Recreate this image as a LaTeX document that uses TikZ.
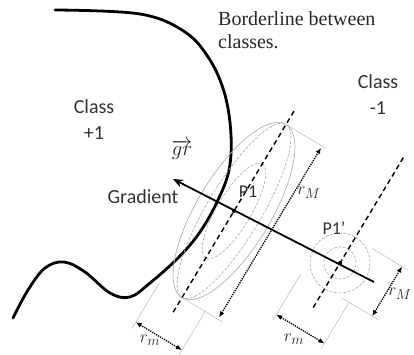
\documentclass[tikz,border=0pt]{standalone}
\usepackage{fontspec}
\setmainfont{Liberation Serif}
\setsansfont{Carlito}
\usetikzlibrary{arrows.meta}

\begin{document}
\begin{tikzpicture}[x=1pt, y=-1pt,
                    border/.style={line width=2.8pt, line cap=round, line join=round},
                    contour/.style={line width=0.7pt, gray!60},
                    dcontour/.style={contour, dash pattern=on 3pt off 1.5pt},
                    ext/.style={line width=0.5pt, gray!55},
                    axisline/.style={line width=1.4pt, dash pattern=on 5pt off 3.5pt},
                    dim/.style={line width=1.3pt, densely dotted,
                                {Latex[length=6pt,width=5pt]}-{Latex[length=6pt,width=5pt]}},
                    grad/.style={line width=1.8pt, -{Stealth[length=10pt,width=8pt]}},
                    lbl/.style={font=\sffamily\fontsize{20}{26}\selectfont, text=black!80,
                                align=center, inner sep=0pt},
                    rlab/.style={font=\fontsize{19}{22}\selectfont, text=black!85, inner sep=0pt}]
  \useasboundingbox (0,0) rectangle (414,355);
  \coordinate (p1) at (234,211);
  \coordinate (p1b) at (340,263);
  \coordinate (gtip) at (173,179);
  \coordinate (gend) at (374,282);
  % borderline
  \draw[border] plot[smooth, tension=0.6] coordinates {(55,10) (140,14) (185,32) (210,60) (225,95)
        (231,135) (229,170) (218,200) (200,232) (178,258) (150,283) (130,297) (110,293) (85,272)
        (64,262) (45,268) (28,290) (13,318)};
  % ellipses round P1
  \begin{scope}[shift={(p1)}, rotate=59]
    \draw[dcontour] (0,0) ellipse [x radius=55, y radius=17];
    \draw[dcontour] (0,0) ellipse [x radius=101, y radius=27];
    \draw[contour] (0,0) ellipse [x radius=101, y radius=37];
    \coordinate (a1) at (-118,0); \coordinate (a2) at (120,0);
    \draw[axisline] (a1) -- (a2);
    \coordinate (t1) at (101,0); \coordinate (t2) at (101,47);
    \coordinate (b1) at (-101,0); \coordinate (b2) at (-101,47);
    \draw[ext] (t1) -- (t2);
    \draw[ext] (b1) -- (b2);
    \coordinate (M1) at (-99,42); \coordinate (M2) at (99,42);
    \draw[dim] (M1) -- (M2);
    \coordinate (l1) at (-100,-27); \coordinate (l2) at (-153,-27);
    \coordinate (r1) at (-100,27); \coordinate (r2) at (-153,27);
    \draw[ext] (l1) -- (l2);
    \draw[ext] (r1) -- (r2);
    \coordinate (m1) at (-146,-27); \coordinate (m2) at (-146,27);
    \draw[dim] (m1) -- (m2);
  \end{scope}
  % circles round P1'
  \begin{scope}[shift={(p1b)}, rotate=59]
    \draw[dcontour] (0,0) circle (16);
    \draw[dcontour] (0,0) circle (30);
    \coordinate (c1) at (-52,0); \coordinate (c2) at (124,0);
    \draw[axisline] (c1) -- (c2);
    \coordinate (u1) at (29,20); \coordinate (u2) at (29,62);
    \coordinate (w1) at (-29,20); \coordinate (w2) at (-29,62);
    \draw[ext] (u1) -- (u2);
    \draw[ext] (w1) -- (w2);
    \coordinate (N1) at (-29,55); \coordinate (N2) at (29,55);
    \draw[dim] (N1) -- (N2);
    \coordinate (k1) at (-30,-28); \coordinate (k2) at (-83,-28);
    \coordinate (j1) at (-30,28); \coordinate (j2) at (-83,28);
    \draw[ext] (k1) -- (k2);
    \draw[ext] (j1) -- (j2);
    \coordinate (n1) at (-77,-28); \coordinate (n2) at (-77,28);
    \draw[dim] (n1) -- (n2);
  \end{scope}
  % gradient
  \draw[grad] (gend) -- (gtip);
  \fill (p1) circle (2);
  \fill (p1b) circle (2);
  % labels
  \node[font=\fontsize{20}{23}\selectfont, text=black!85, align=left, anchor=west, inner sep=0pt]
        (bord) at (218,30) {Borderline between\\classes.};
  \node[lbl] (cpos) at (94,120) {Class\\+1};
  \node[lbl] (cneg) at (378,95) {Class\\-1};
  \node[font=\fontsize{22}{24}\selectfont, text=black!85, inner sep=0pt] (gr) at (182,150) {$\overrightarrow{gr}$};
  \node[lbl] (gradl) at (143,197) {Gradient};
  \node[lbl, font=\sffamily\fontsize{18}{20}\selectfont] (p1l) at (248,192) {P1};
  \node[lbl, font=\sffamily\fontsize{18}{20}\selectfont] (p1bl) at (334,228) {P1'};
  \node[rlab] (rM1) at (309,193) {$r_M$};
  \node[rlab] (rM2) at (400,294) {$r_M$};
  \node[rlab] (rm1) at (294,339) {$r_m$};
  \node[rlab] (rm2) at (150,340) {$r_m$};
\end{tikzpicture}
\end{document}
